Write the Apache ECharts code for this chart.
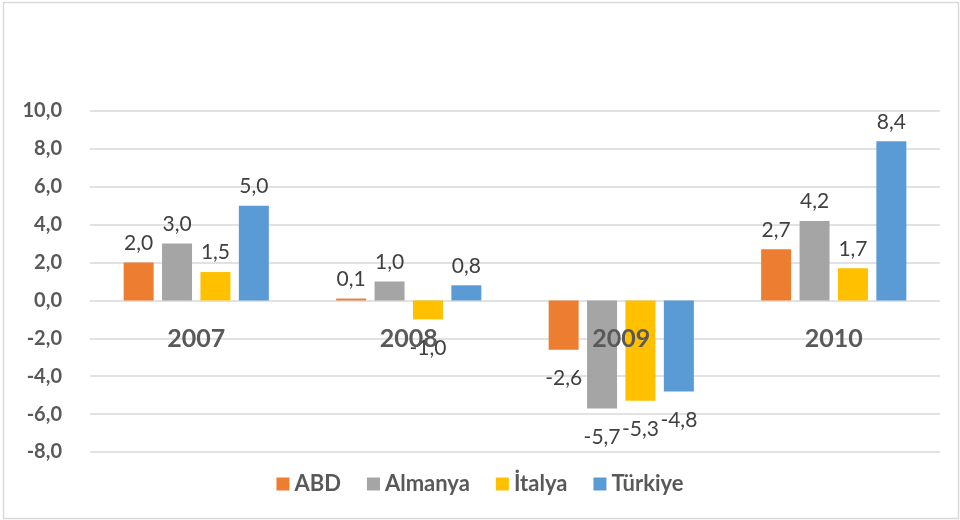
<!DOCTYPE html>
<html>
<head>
<meta charset="utf-8">
<script src="https://cdn.jsdelivr.net/npm/echarts@6/dist/echarts.min.js"></script>
<style>
  html, body { margin: 0; padding: 0; background: #fff; }
  #chart { width: 960px; height: 520px; }
</style>
</head>
<body>
<div id="chart"></div>
<script>
  // yıllar ve ülkeler
  const years = ['2007', '2008', '2009', '2010'];
  const countries = ['ABD', 'Almanya', 'İtalya', 'Türkiye'];
  const colors = ['#ED7D31', '#A5A5A5', '#FFC000', '#5B9BD5'];

  // büyüme oranları (%)
  const abd = [2.0, 0.1, -2.6, 2.7];
  const almanya = [3.0, 1.0, -5.7, 4.2];
  const italya = [1.5, -1.0, -5.3, 1.7];
  const turkiye = [5.0, 0.8, -4.8, 8.4];
  const values = [abd, almanya, italya, turkiye];

  const fmt = v => v.toFixed(1).replace('.', ',');

  const chart = echarts.init(document.getElementById('chart'));
  chart.setOption({
    color: colors,
    textStyle: { fontFamily: 'Lato' },
    graphic: [{
      type: 'rect',
      shape: { x: 3.5, y: 2.5, width: 955, height: 516 },
      style: { fill: 'none', stroke: '#d9d9d9', lineWidth: 1.5 }
    }],
    grid: { left: 90, right: 20, top: 111, bottom: 68 },
    legend: {
      data: countries,
      top: 468,
      left: 'center',
      icon: 'rect',
      itemWidth: 13,
      itemHeight: 13,
      itemGap: 26,
      textStyle: { color: '#595959', fontSize: 22, fontWeight: 'bold', fontFamily: 'Lato' }
    },
    xAxis: {
      type: 'category',
      data: years,
      z: 10, // yıl etiketleri çubukların üstünde
      // etiketler sıfır çizgisinin altında
      offset: -152,
      axisLine: { onZero: false, show: false },
      axisTick: { show: false },
      axisLabel: { margin: 26, color: '#595959', fontSize: 25, fontWeight: 'bold', fontFamily: 'Lato' }
    },
    yAxis: {
      type: 'value',
      min: -8,
      max: 10,
      interval: 2,
      axisLine: { show: false },
      axisTick: { show: false },
      splitLine: { lineStyle: { color: '#d9d9d9', width: 1.5 } },
      axisLabel: {
        margin: 28,
        color: '#595959',
        fontSize: 20,
        fontWeight: 'bold',
        fontFamily: 'Lato',
        formatter: fmt
      }
    },
    series: countries.map((name, i) => ({
      name: name,
      type: 'bar',
      barWidth: 30,
      barGap: '28%',
      data: values[i].map(v => ({
        value: v,
        label: v < 0 ? { position: 'bottom', distance: 18 } : { position: 'top', distance: 9 }
      })),
      label: {
        show: true,
        color: '#404040',
        fontSize: 21,
        fontFamily: 'Lato',
        formatter: p => fmt(p.value)
      }
    }))
  });
</script>
</body>
</html>
